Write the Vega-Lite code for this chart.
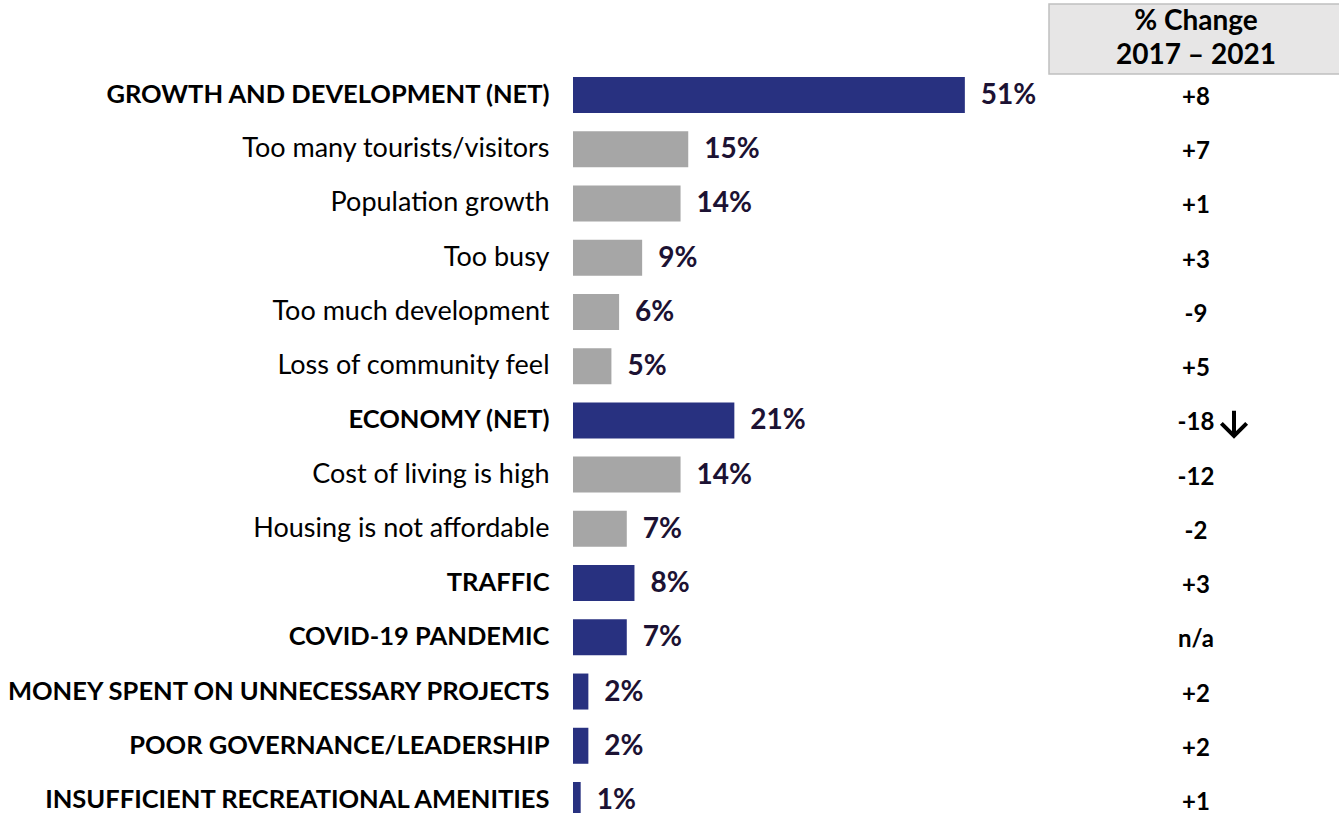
{
  "$schema": "https://vega.github.io/schema/vega-lite/v6.json",
  "padding": {"top": 3, "left": 0, "right": 0, "bottom": 0},
  "background": "white",
  "config": {
    "view": {"stroke": null},
    "font": "Lato"
  },
  "datasets": {
    "rows": [
      {"label": "GROWTH AND DEVELOPMENT (NET)", "value": 0.51, "kind": "net", "change": "+8", "arrow": "none"},
      {"label": "Too many tourists/visitors", "value": 0.15, "kind": "sub", "change": "+7", "arrow": "none"},
      {"label": "Population growth", "value": 0.14, "kind": "sub", "change": "+1", "arrow": "none"},
      {"label": "Too busy", "value": 0.09, "kind": "sub", "change": "+3", "arrow": "none"},
      {"label": "Too much development", "value": 0.06, "kind": "sub", "change": "-9", "arrow": "none"},
      {"label": "Loss of community feel", "value": 0.05, "kind": "sub", "change": "+5", "arrow": "none"},
      {"label": "ECONOMY (NET)", "value": 0.21, "kind": "net", "change": "-18", "arrow": "down"},
      {"label": "Cost of living is high", "value": 0.14, "kind": "sub", "change": "-12", "arrow": "none"},
      {"label": "Housing is not affordable", "value": 0.07, "kind": "sub", "change": "-2", "arrow": "none"},
      {"label": "TRAFFIC", "value": 0.08, "kind": "net", "change": "+3", "arrow": "none"},
      {"label": "COVID-19 PANDEMIC", "value": 0.07, "kind": "net", "change": "n/a", "arrow": "none"},
      {"label": "MONEY SPENT ON UNNECESSARY PROJECTS", "value": 0.02, "kind": "net", "change": "+2", "arrow": "none"},
      {"label": "POOR GOVERNANCE/LEADERSHIP", "value": 0.02, "kind": "net", "change": "+2", "arrow": "none"},
      {"label": "INSUFFICIENT RECREATIONAL AMENITIES", "value": 0.01, "kind": "net", "change": "+1", "arrow": "none"}
    ],
    "header": [
      {"line": "% Change", "order": 1},
      {"line": "2017 – 2021", "order": 2}
    ]
  },
  "columns": 2,
  "spacing": {"column": 11, "row": 2},
  "concat": [
    {
      "width": 461,
      "height": 70,
      "data": {"values": []},
      "mark": {"type": "text"},
      "encoding": {}
    },
    {
      "width": 294,
      "height": 70,
      "view": {"fill": "#e7e6e6", "stroke": "#c0c0c0", "strokeWidth": 1.5},
      "data": {"name": "header"},
      "mark": {"type": "text", "fontSize": 28, "fontWeight": "bold", "color": "#000000", "baseline": "middle"},
      "encoding": {
        "y": {"field": "line", "type": "nominal", "sort": {"field": "order"}, "scale": {"type": "band", "paddingInner": 0, "paddingOuter": 0.05}, "axis": null},
        "text": {"field": "line"}
      }
    },
    {
      "width": 461,
      "height": 741,
      "data": {"name": "rows"},
      "encoding": {
        "y": {
          "field": "label",
          "type": "nominal",
          "sort": null,
          "scale": {"type": "band", "paddingInner": 0.336, "paddingOuter": 0},
          "axis": {
            "title": null,
            "domain": false,
            "ticks": false,
            "labelColor": "#000000",
            "labelPadding": 24,
            "labelLimit": 700,
            "minExtent": 573,
            "maxExtent": 573,
            "labelFontSize": {"condition": {"test": "upper(datum.value) === datum.value", "value": 25.5}, "value": 27},
            "labelFontWeight": {"condition": {"test": "upper(datum.value) === datum.value", "value": "bold"}, "value": "normal"}
          }
        }
      },
      "layer": [
        {
          "mark": {"type": "bar"},
          "encoding": {
            "x": {"field": "value", "type": "quantitative", "scale": {"domain": [0, 0.6]}, "axis": null},
            "color": {
              "field": "kind",
              "type": "nominal",
              "scale": {"domain": ["net", "sub"], "range": ["#283180", "#a6a6a6"]},
              "legend": null
            }
          }
        },
        {
          "mark": {"type": "text", "align": "left", "baseline": "middle", "dx": 16, "dy": 1, "fontSize": 28, "fontWeight": "bold", "color": "#1c1233"},
          "encoding": {
            "x": {"field": "value", "type": "quantitative"},
            "text": {"field": "value", "type": "quantitative", "format": ".0%"}
          }
        }
      ]
    },
    {
      "width": 294,
      "height": 741,
      "data": {"name": "rows"},
      "encoding": {
        "y": {
          "field": "label",
          "type": "nominal",
          "sort": null,
          "scale": {"type": "band", "paddingInner": 0.336, "paddingOuter": 0},
          "axis": null
        }
      },
      "layer": [
        {
          "mark": {"type": "text", "fontSize": 24, "fontWeight": "bold", "color": "#000000", "baseline": "middle", "dy": 3},
          "encoding": {"text": {"field": "change"}}
        },
        {
          "transform": [{"filter": "datum.arrow === 'down'"}],
          "mark": {
            "type": "point",
            "shape": "M0,-1L0,1M-1,0L0,1L1,0",
            "filled": false,
            "size": 640,
            "stroke": "#000000",
            "strokeWidth": 4,
            "strokeJoin": "miter",
            "opacity": 1,
            "xOffset": 38,
            "yOffset": 3
          },
          "encoding": {}
        }
      ]
    }
  ]
}
